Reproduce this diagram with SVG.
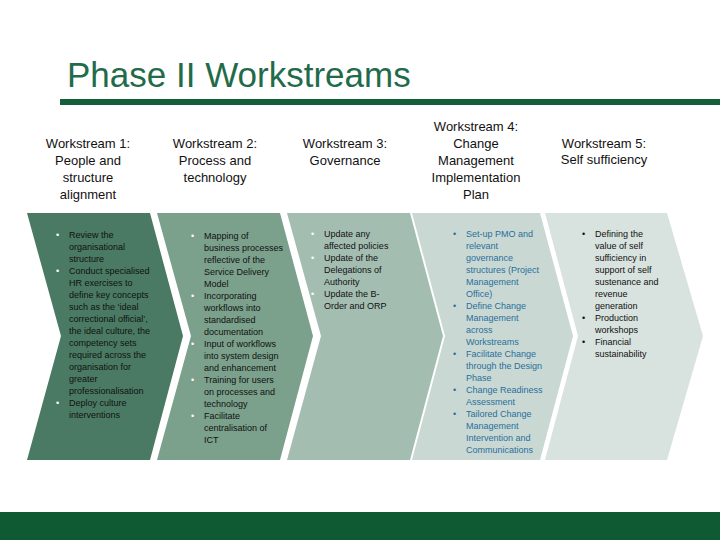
<svg xmlns="http://www.w3.org/2000/svg" width="720" height="540" viewBox="0 0 720 540">
<style>
.h{font-family:"Liberation Sans",Arial,sans-serif;font-size:13px;fill:#111;text-anchor:middle}
.b{font-family:"Liberation Sans",Arial,sans-serif;font-size:9px;fill:#111}
.w{fill:#fff}
.bl{fill:#2a6f9e}
</style>
<rect width="720" height="540" fill="#fff"/>
<text x="67" y="87" font-family="Liberation Sans,Arial,sans-serif" font-size="35" fill="#1f6b4a">Phase II Workstreams</text>
<rect x="60" y="99" width="660" height="6" fill="#15603a"/>
<rect x="0" y="512" width="720" height="28" fill="#0f5a32"/>
<g id="chevrons">
<polygon id="c1" points="27,213 150,213 183,336 150,460 27,460 61,336" fill="#4a7a63"/>
<polygon id="c2" points="157,213 280,213 313,336 280,460 157,460 191,336" fill="#7ba08c"/>
<polygon id="c3" points="287,213 410,213 443,336 410,460 287,460 321,336" fill="#a4bdb1"/>
<polygon id="c4" points="412,213 540,213 573,336 540,460 412,460 445,336" fill="#c9d8d2"/>
<polygon id="c5" points="545,213 667,213 703,336 667,460 545,460 578,336" fill="#d8e2de"/>
</g>
<g id="headings">
<text class="h"><tspan x="88" y="148">Workstream 1:</tspan><tspan x="88" y="165">People and</tspan><tspan x="88" y="182">structure</tspan><tspan x="88" y="199">alignment</tspan></text>
<text class="h"><tspan x="215" y="148">Workstream 2:</tspan><tspan x="215" y="165">Process and</tspan><tspan x="215" y="182">technology</tspan></text>
<text class="h"><tspan x="345" y="148">Workstream 3:</tspan><tspan x="345" y="165">Governance</tspan></text>
<text class="h"><tspan x="476" y="131">Workstream 4:</tspan><tspan x="476" y="148">Change</tspan><tspan x="476" y="165">Management</tspan><tspan x="476" y="182">Implementation</tspan><tspan x="476" y="199">Plan</tspan></text>
<text class="h"><tspan x="604" y="148">Workstream 5:</tspan><tspan x="604" y="164">Self sufficiency</tspan></text>
</g>
<g id="t1" class="b">
<text class="b w" x="56" y="238">•</text><text class="b w" x="56" y="274">•</text><text class="b w" x="56" y="406">•</text>
<text class="b"><tspan x="69" y="238">Review the</tspan><tspan x="69" y="250">organisational</tspan><tspan x="69" y="262">structure</tspan><tspan x="69" y="274">Conduct specialised</tspan><tspan x="69" y="286">HR exercises to</tspan><tspan x="69" y="298">define key concepts</tspan><tspan x="69" y="310">such as the ‘ideal</tspan><tspan x="69" y="322">correctional official’,</tspan><tspan x="69" y="334">the ideal culture, the</tspan><tspan x="69" y="346">competency sets</tspan><tspan x="69" y="358">required across the</tspan><tspan x="69" y="370">organisation for</tspan><tspan x="69" y="382">greater</tspan><tspan x="69" y="394">professionalisation</tspan><tspan x="69" y="406">Deploy culture</tspan><tspan x="69" y="418">interventions</tspan></text>
</g>
<g id="t2">
<text class="b w" x="191" y="239">•</text><text class="b w" x="191" y="299">•</text><text class="b w" x="191" y="347">•</text><text class="b w" x="191" y="383">•</text><text class="b w" x="191" y="419">•</text>
<text class="b"><tspan x="204" y="239">Mapping of</tspan><tspan x="204" y="251">business processes</tspan><tspan x="204" y="263">reflective of the</tspan><tspan x="204" y="275">Service Delivery</tspan><tspan x="204" y="287">Model</tspan><tspan x="204" y="299">Incorporating</tspan><tspan x="204" y="311">workflows into</tspan><tspan x="204" y="323">standardised</tspan><tspan x="204" y="335">documentation</tspan><tspan x="204" y="347">Input of workflows</tspan><tspan x="204" y="359">into system design</tspan><tspan x="204" y="371">and enhancement</tspan><tspan x="204" y="383">Training for users</tspan><tspan x="204" y="395">on processes and</tspan><tspan x="204" y="407">technology</tspan><tspan x="204" y="419">Facilitate</tspan><tspan x="204" y="431">centralisation of</tspan><tspan x="204" y="443">ICT</tspan></text>
</g>
<g id="t3">
<text class="b w" x="311" y="237">•</text><text class="b w" x="311" y="261">•</text><text class="b w" x="311" y="297">•</text>
<text class="b"><tspan x="324" y="237">Update any</tspan><tspan x="324" y="249">affected policies</tspan><tspan x="324" y="261">Update of the</tspan><tspan x="324" y="273">Delegations of</tspan><tspan x="324" y="285">Authority</tspan><tspan x="324" y="297">Update the B-</tspan><tspan x="324" y="309">Order and ORP</tspan></text>
</g>
<g id="t4">
<text class="b bl" x="453" y="237">•</text><text class="b bl" x="453" y="309">•</text><text class="b bl" x="453" y="357">•</text><text class="b bl" x="453" y="393">•</text><text class="b bl" x="453" y="417">•</text>
<text class="b bl"><tspan x="466" y="237">Set-up PMO and</tspan><tspan x="466" y="249">relevant</tspan><tspan x="466" y="261">governance</tspan><tspan x="466" y="273">structures (Project</tspan><tspan x="466" y="285">Management</tspan><tspan x="466" y="297">Office)</tspan><tspan x="466" y="309">Define Change</tspan><tspan x="466" y="321">Management</tspan><tspan x="466" y="333">across</tspan><tspan x="466" y="345">Workstreams</tspan><tspan x="466" y="357">Facilitate Change</tspan><tspan x="466" y="369">through the Design</tspan><tspan x="466" y="381">Phase</tspan><tspan x="466" y="393">Change Readiness</tspan><tspan x="466" y="405">Assessment</tspan><tspan x="466" y="417">Tailored Change</tspan><tspan x="466" y="429">Management</tspan><tspan x="466" y="441">Intervention and</tspan><tspan x="466" y="453">Communications</tspan></text>
</g>
<g id="t5">
<text class="b" x="582" y="237">•</text><text class="b" x="582" y="321">•</text><text class="b" x="582" y="345">•</text>
<text class="b"><tspan x="595" y="237">Defining the</tspan><tspan x="595" y="249">value of self</tspan><tspan x="595" y="261">sufficiency in</tspan><tspan x="595" y="273">support of self</tspan><tspan x="595" y="285">sustenance and</tspan><tspan x="595" y="297">revenue</tspan><tspan x="595" y="309">generation</tspan><tspan x="595" y="321">Production</tspan><tspan x="595" y="333">workshops</tspan><tspan x="595" y="345">Financial</tspan><tspan x="595" y="357">sustainability</tspan></text>
</g>
</svg>
